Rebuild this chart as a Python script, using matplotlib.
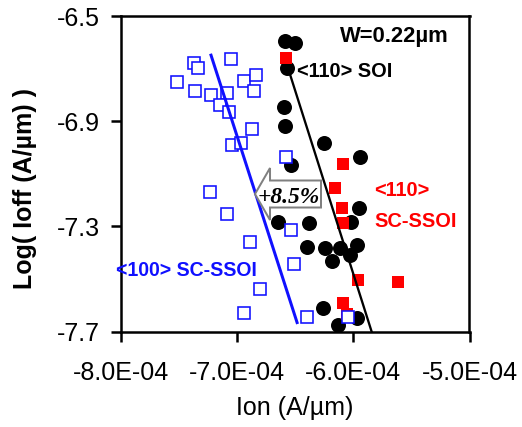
import numpy as np
import matplotlib
matplotlib.use("Agg")
import matplotlib.pyplot as plt
from matplotlib.patches import Polygon
from matplotlib.ticker import FuncFormatter

plt.rcParams['font.family'] = ['Liberation Sans', 'DejaVu Sans']
plt.rcParams['axes.unicode_minus'] = False

# Ion in units of 1E-04 A/um, log10(Ioff)
ssoi100_ion = [-7.368, -7.334, -7.050, -7.514, -7.359, -7.222, -7.084, -6.938,
               -6.835, -6.852, -7.144, -7.067, -6.869, -7.041, -6.964, -6.577,
               -7.230, -7.084, -6.886, -6.534, -6.508, -6.801, -6.938, -6.396,
               -6.044]
ssoi100_ioff = [-6.679, -6.698, -6.664, -6.751, -6.786, -6.801, -6.793, -6.748,
                -6.725, -6.786, -6.839, -6.866, -6.930, -6.991, -6.984, -7.037,
                -7.170, -7.254, -7.361, -7.315, -7.445, -7.540, -7.628, -7.643,
                -7.643]

soi110_ion = [-6.586, -6.500, -6.568, -6.594, -6.586, -6.250, -5.941, -6.534,
              -6.646, -6.379, -5.949, -6.018, -6.396, -6.242, -6.113, -6.181,
              -5.966, -6.027, -6.259, -6.130, -5.966]
soi110_ioff = [-6.595, -6.603, -6.698, -6.847, -6.919, -6.984, -7.037, -7.068,
               -7.285, -7.289, -7.231, -7.285, -7.380, -7.384, -7.384, -7.430,
               -7.372, -7.410, -7.609, -7.677, -7.650]

ssoi110_ion = [-6.577, -6.087, -6.156, -6.095, -6.087, -5.958, -5.614, -6.087,
               -6.052]
ssoi110_ioff = [-6.660, -7.064, -7.155, -7.231, -7.289, -7.506, -7.510, -7.590,
                -7.635]

# trend lines (two end points each)
fit100_ion = [-7.222, -6.482]
fit100_ioff = [-6.649, -7.666]
fit110_ion = [-6.560, -5.838]
fit110_ioff = [-6.698, -7.705]

xticks = [-8e-4, -7e-4, -6e-4, -5e-4]
yticks = [-7.7, -7.3, -6.9, -6.5]

e4 = 1e-4
blue = '#1010ff'
red = '#ff0000'

fig = plt.figure(figsize=(522 / 72, 427 / 72), dpi=72)
ax = fig.add_axes([120.5 / 522, 95.5 / 427, 349 / 522, 315.5 / 427])

ax.plot(np.array(soi110_ion) * e4, soi110_ioff, 'o', color='black',
        markersize=15, markeredgewidth=0, zorder=2)
ax.plot(np.array(ssoi110_ion) * e4, ssoi110_ioff, 's', color=red,
        markersize=12.5, markeredgewidth=0, zorder=3)
ax.plot(np.array(ssoi100_ion) * e4, ssoi100_ioff, 's', markerfacecolor='white',
        markeredgecolor=blue, markeredgewidth=1.6, markersize=12, zorder=4)

ax.plot(np.array(fit100_ion) * e4, fit100_ioff, color=blue, lw=3, zorder=5)
ax.plot(np.array(fit110_ion) * e4, fit110_ioff, color='black', lw=2.3, zorder=5)

ax.set_xlim(-8e-4, -5e-4)
ax.set_ylim(-7.7, -6.5)
ax.set_xticks(xticks)
ax.set_yticks(yticks)
ax.xaxis.set_major_formatter(FuncFormatter(lambda v, p: f"{v:.1E}"))
ax.yaxis.set_major_formatter(FuncFormatter(lambda v, p: f"{v:.1f}"))
ax.tick_params(axis='x', length=10, width=2.5, pad=20, labelsize=25)
ax.tick_params(axis='y', length=10, width=2.5, pad=11, labelsize=25)
for s in ax.spines.values():
    s.set_linewidth(2.5)

ax.set_xlabel('Ion (A/µm)', fontsize=25, labelpad=10)
ax.set_ylabel('Log( Ioff (A/µm) )', fontsize=25, fontweight='bold')
ax.yaxis.set_label_coords(-0.239, 0.452)

# labels for each group
ax.text(0.629, 0.9185, 'W=0.22µm', transform=ax.transAxes, fontsize=22,
        fontweight='bold', va='baseline')
ax.text(0.5057, 0.8067, '<110> SOI', transform=ax.transAxes, fontsize=20,
        fontweight='bold', va='baseline')
ax.text(0.7264, 0.4295, '<110>', transform=ax.transAxes, fontsize=20,
        fontweight='bold', va='baseline', color=red)
ax.text(0.7264, 0.3328, 'SC-SSOI', transform=ax.transAxes, fontsize=20,
        fontweight='bold', va='baseline', color=red)
ax.text(-0.013, 0.176, '<100> SC-SSOI', transform=ax.transAxes, fontsize=19.5,
        fontweight='bold', va='baseline', color=blue, clip_on=False, zorder=6)

# block arrow marking the Ion gain
arrow = Polygon([(0.3854, 0.4358), (0.4284, 0.5182), (0.4284, 0.4786),
                 (0.5745, 0.4786), (0.5745, 0.3930), (0.4284, 0.3930),
                 (0.4284, 0.3534)], closed=True, transform=ax.transAxes,
                facecolor='white', edgecolor='#808080', lw=2, zorder=7)
ax.add_patch(arrow)
ax.text(0.392, 0.4073, '+8.5%', transform=ax.transAxes, fontsize=23.5,
        family='Liberation Serif', style='italic', fontweight='bold',
        va='baseline', zorder=8)

fig.savefig('out.png', dpi=72)
